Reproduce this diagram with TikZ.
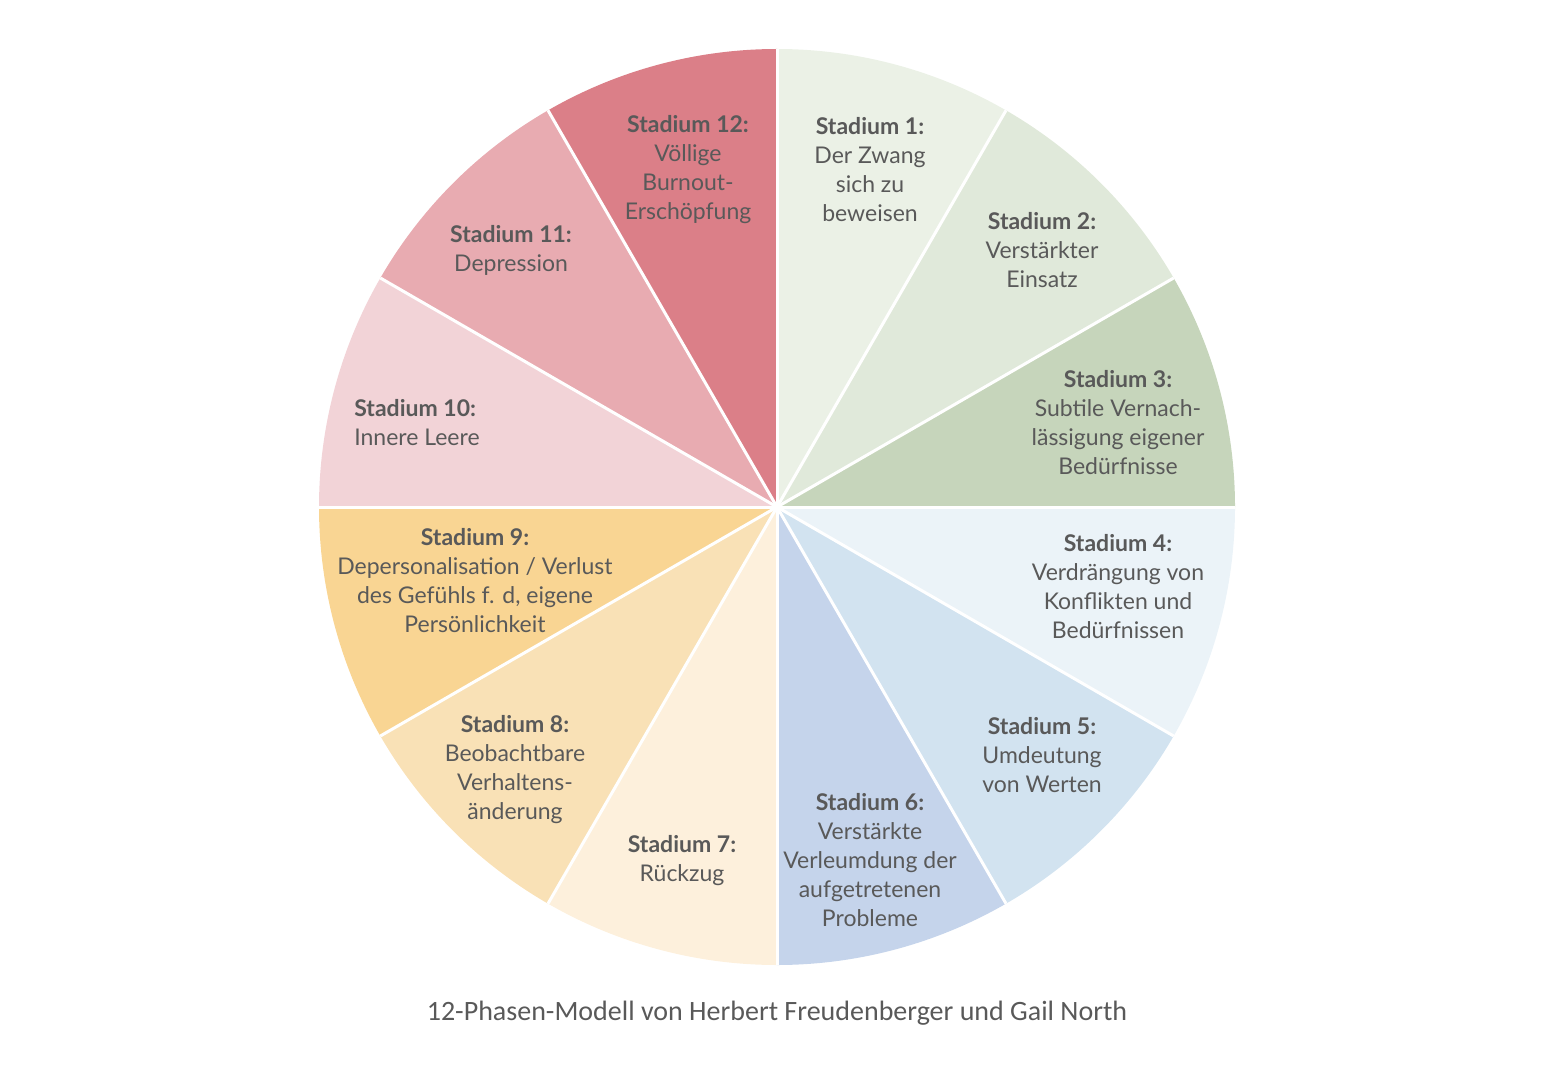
\documentclass[tikz,border=0pt]{standalone}
\usepackage{fontspec}
\setmainfont{Lato}
\newfontfamily\capfont{Carlito}
\definecolor{txtgray}{HTML}{595959}
\definecolor{sA}{HTML}{EBF1E6}
\definecolor{sB}{HTML}{E0E9DA}
\definecolor{sC}{HTML}{C6D5BB}
\definecolor{sD}{HTML}{EBF3F8}
\definecolor{sE}{HTML}{D2E3F0}
\definecolor{sF}{HTML}{C5D4EB}
\definecolor{sG}{HTML}{FDF0DC}
\definecolor{sH}{HTML}{F9E1B6}
\definecolor{sI}{HTML}{F9D593}
\definecolor{sJ}{HTML}{F2D3D7}
\definecolor{sK}{HTML}{E8ABB1}
\definecolor{sL}{HTML}{DB7F88}
\tikzset{
  stagetext/.style={text=txtgray, align=center, font=\fontsize{11.5}{14.5}\selectfont, inner sep=0pt},
  slice/.style={draw=white, line width=1.5pt, line join=round}
}
\begin{document}
\begin{tikzpicture}[x=0.5pt, y=-0.5pt]
  \useasboundingbox (0,0) rectangle (1556,1080);
  \coordinate (c) at (777,507);
  % slices, clockwise from top (y axis points down)
  \foreach \col [count=\i] in {sA,sB,sC,sD,sE,sF,sG,sH,sI,sJ,sK,sL}{
    \pgfmathsetmacro{\a}{-90+30*(\i-1)}
    \pgfmathsetmacro{\b}{-90+30*\i}
    \fill[\col] (c) -- ++(\a:458) arc[start angle=\a, end angle=\b, radius=458] -- cycle;
  }
  \foreach \i in {0,...,11}{
    \draw[slice] (c) -- ++(30*\i:458);
  }
  % labels
  \node[stagetext] (st1) at (870,170) {\textbf{Stadium 1:}\\Der Zwang\\sich zu\\beweisen};
  \node[stagetext] (st2) at (1042,250) {\textbf{Stadium 2:}\\Verstärkter\\Einsatz};
  \node[stagetext] (st3) at (1118,423) {\textbf{Stadium 3:}\\Subtile Vernach-\\lässigung eigener\\Bedürfnisse};
  \node[stagetext] (st4) at (1118,587) {\textbf{Stadium 4:}\\Verdrängung von\\Konflikten und\\Bedürfnissen};
  \node[stagetext] (st5) at (1042,755) {\textbf{Stadium 5:}\\Umdeutung\\von Werten};
  \node[stagetext] (st6) at (870,860) {\textbf{Stadium 6:}\\Verstärkte\\Verleumdung der\\aufgetretenen\\Probleme};
  \node[stagetext] (st7) at (682,861) {\textbf{Stadium 7:}\\Rückzug};
  \node[stagetext] (st8) at (515,770) {\textbf{Stadium 8:}\\Beobachtbare\\Verhaltens-\\änderung};
  \node[stagetext] (st9) at (475,581) {\textbf{Stadium 9:}\\Depersonalisation / Verlust\\des Gefühls f. d, eigene\\Persönlichkeit};
  \node[stagetext, align=left] (st10) at (417,423) {\textbf{Stadium 10:}\\Innere Leere};
  \node[stagetext] (st11) at (511,250) {\textbf{Stadium 11:}\\Depression};
  \node[stagetext] (st12) at (688,170) {\textbf{Stadium 12:}\\Völlige\\Burnout-\\Erschöpfung};
  \node[text=txtgray, font=\capfont\fontsize{14}{16}\selectfont] (caption) at (777,1013)
    {12-Phasen-Modell von Herbert Freudenberger und Gail North};
\end{tikzpicture}
\end{document}
